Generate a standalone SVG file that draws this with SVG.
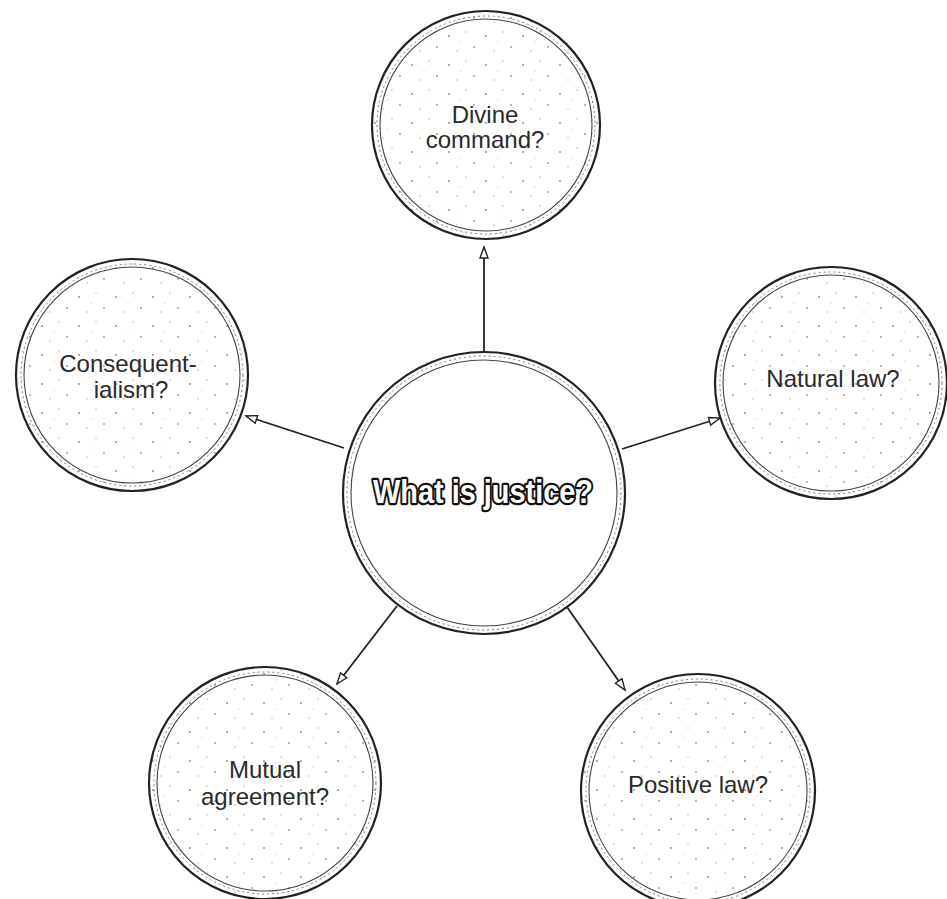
<svg xmlns="http://www.w3.org/2000/svg" width="947" height="899" viewBox="0 0 947 899">
<style>
.outer{fill:url(#stip);stroke:#222;stroke-width:2.2}
.inner{fill:none;stroke:#444;stroke-width:1.1}
.band{fill:none;stroke:#777;stroke-width:1;stroke-dasharray:2 3}
.lbl{font-family:"Liberation Sans",Arial,sans-serif;font-size:24px;fill:#2a2a2a;text-anchor:middle}
.con{stroke:#222;stroke-width:1.8;fill:none;marker-end:url(#arr)}
.main{font-family:"Liberation Sans",Arial,sans-serif;font-weight:bold;font-size:34px;fill:#fff;stroke:#111;stroke-width:4.5;paint-order:stroke;text-anchor:middle;stroke-linejoin:round}
</style>
<defs>
<pattern id="stip" width="37" height="29" patternUnits="userSpaceOnUse">
<rect width="37" height="29" fill="#fff"/>
<circle cx="5" cy="7" r="0.9" fill="#888"/>
<circle cx="22" cy="3" r="0.7" fill="#aaa"/>
<circle cx="30" cy="18" r="0.9" fill="#999"/>
<circle cx="13" cy="22" r="0.7" fill="#aaa"/>
<circle cx="17" cy="13" r="0.6" fill="#bbb"/>
</pattern>
<marker id="arr" markerWidth="14" markerHeight="12" refX="12" refY="5" orient="auto" markerUnits="userSpaceOnUse">
<path d="M1,1 L12,5 L1,9 Z" fill="#fff" stroke="#222" stroke-width="1.4"/>
</marker>
</defs>
<rect width="947" height="899" fill="#fff"/>
<g id="connectors">
<line class="con" x1="484" y1="352" x2="484" y2="247"/>
<line class="con" x1="344" y1="448" x2="246" y2="416"/>
<line class="con" x1="622" y1="449" x2="720" y2="418"/>
<line class="con" x1="397" y1="606" x2="337" y2="684"/>
<line class="con" x1="567" y1="607" x2="625" y2="690"/>
</g>
<g id="center">
<circle cx="484" cy="493" r="141" fill="#fff" stroke="#222" stroke-width="2.2"/>
<circle cx="484" cy="493" r="137" class="band"/>
<circle cx="484" cy="493" r="133" class="inner" stroke-width="1.8"/>
<text class="main" x="483" y="503" textLength="220" lengthAdjust="spacingAndGlyphs">What is justice?</text>
</g>
<g id="divine">
<circle cx="486" cy="125" r="114" class="outer"/>
<circle cx="486" cy="125" r="109" class="band"/>
<circle cx="486" cy="125" r="106" class="inner"/>
<text class="lbl" x="485" y="123">Divine</text>
<text class="lbl" x="485" y="148">command?</text>
</g>
<g id="consequentialism">
<circle cx="132" cy="375" r="116" class="outer"/>
<circle cx="132" cy="375" r="111" class="band"/>
<circle cx="132" cy="375" r="108" class="inner"/>
<text class="lbl" x="128" y="372">Consequent-</text>
<text class="lbl" x="131" y="398">ialism?</text>
</g>
<g id="natural">
<circle cx="831" cy="383" r="116" class="outer"/>
<circle cx="831" cy="383" r="111" class="band"/>
<circle cx="831" cy="383" r="108" class="inner"/>
<text class="lbl" x="833" y="387">Natural law?</text>
</g>
<g id="mutual">
<circle cx="265" cy="783" r="116" class="outer"/>
<circle cx="265" cy="783" r="111" class="band"/>
<circle cx="265" cy="783" r="108" class="inner"/>
<text class="lbl" x="265" y="778">Mutual</text>
<text class="lbl" x="265" y="805">agreement?</text>
</g>
<g id="positive">
<circle cx="698" cy="791" r="117" class="outer"/>
<circle cx="698" cy="791" r="112" class="band"/>
<circle cx="698" cy="791" r="109" class="inner"/>
<text class="lbl" x="698" y="793">Positive law?</text>
</g>
</svg>
